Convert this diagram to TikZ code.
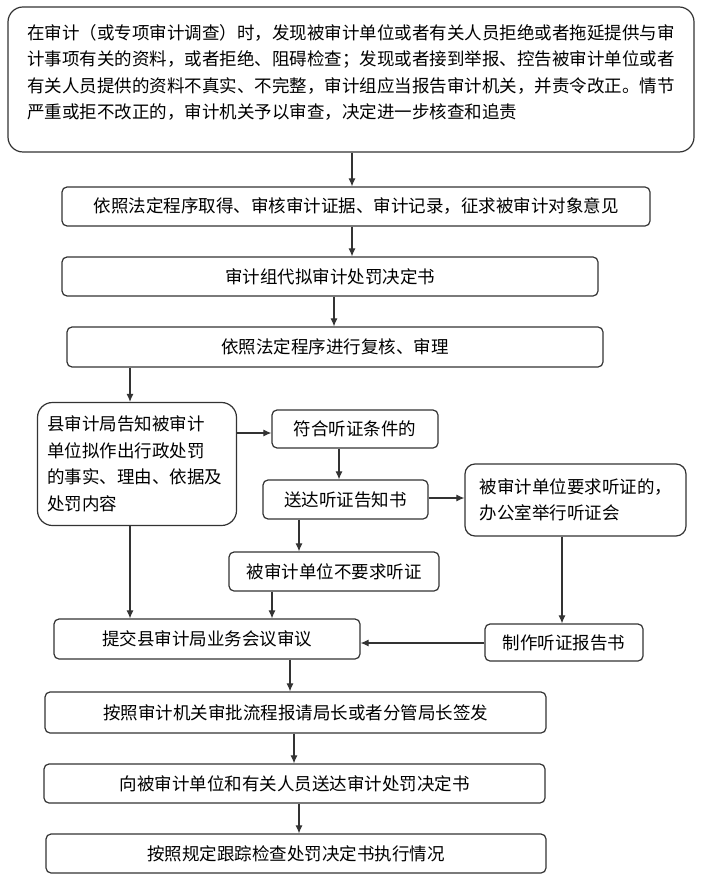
\documentclass[tikz,border=0pt]{standalone}
\usepackage{fontspec}
\newfontfamily\cjk{Noto Sans CJK SC}
\usetikzlibrary{arrows.meta}
\definecolor{ln}{HTML}{333333}
\begin{document}
\begin{tikzpicture}[x=1pt,y=-1pt,
  box/.style={draw=ln,line width=1.2pt,rounded corners=5pt,inner sep=0pt,
    font={\cjk\fontsize{17.5}{26.5}\selectfont},text=black},
  txt/.style={inner sep=0pt,align=left,font={\cjk\fontsize{17.5}{26.5}\selectfont},text=black},
  arr/.style={draw=ln,line width=1.1pt,-{Latex[length=8pt,width=7pt]}}]
\path[use as bounding box,fill=white] (0,0) rectangle (705,882);

\node[box,rounded corners=15pt,minimum width=686pt,minimum height=145pt] (top) at (351,79.5) {};
\node[txt,anchor=north west] (toptxt) at (27,24) {在审计（或专项审计调查）时，发现被审计单位或者有关人员拒绝或者拖延提供与审\\
计事项有关的资料，或者拒绝、阻碍检查；发现或者接到举报、控告被审计单位或者\\
有关人员提供的资料不真实、不完整，审计组应当报告审计机关，并责令改正。情节\\
严重或拒不改正的，审计机关予以审查，决定进一步核查和追责};

\node[box,minimum width=588pt,minimum height=39pt] (b2) at (356,206.5) {依照法定程序取得、审核审计证据、审计记录，征求被审计对象意见};
\node[box,minimum width=536pt,minimum height=39pt] (b3) at (330,276.5) {审计组代拟审计处罚决定书};
\node[box,minimum width=536pt,minimum height=40pt] (b4) at (335,347) {依照法定程序进行复核、审理};
\node[box,rounded corners=15pt,minimum width=199pt,minimum height=123pt,align=left,text width=180pt] (b5) at (137,464) {县审计局告知被审计\\单位拟作出行政处罚\\的事实、理由、依据及\\处罚内容};
\node[box,minimum width=166pt,minimum height=38pt] (b6) at (355,429) {符合听证条件的};
\node[box,minimum width=165pt,minimum height=39pt] (b7) at (345.5,499.5) {送达听证告知书};
\node[box,rounded corners=10pt,minimum width=221pt,minimum height=72pt,align=left,text width=192pt] (b8) at (575.5,500) {被审计单位要求听证的，\\办公室举行听证会};
\node[box,minimum width=210pt,minimum height=39pt] (b9) at (334,571.5) {被审计单位不要求听证};
\node[box,minimum width=306pt,minimum height=40pt] (b10) at (207,639) {提交县审计局业务会议审议};
\node[box,minimum width=158pt,minimum height=37pt] (b11) at (564,642.5) {制作听证报告书};
\node[box,minimum width=501pt,minimum height=41pt] (b12) at (295.5,712.5) {按照审计机关审批流程报请局长或者分管局长签发};
\node[box,minimum width=501pt,minimum height=39pt] (b13) at (294.5,783.5) {向被审计单位和有关人员送达审计处罚决定书};
\node[box,minimum width=500pt,minimum height=39pt] (b14) at (296,853.5) {按照规定跟踪检查处罚决定书执行情况};

\draw[arr] (top.south -| 352,0) -- (b2.north -| 352,0);
\draw[arr] (b2.south -| 352,0) -- (b3.north -| 352,0);
\draw[arr] (b3.south -| 334,0) -- (b4.north -| 334,0);
\draw[arr] (b4.south -| 130,0) -- (b5.north -| 130,0);
\draw[arr] (b5.east |- 0,433) -- (b6.west |- 0,433);
\draw[arr] (b6.south -| 339,0) -- (b7.north -| 339,0);
\draw[arr] (b7.east |- 0,498) -- (b8.west |- 0,498);
\draw[arr] (b7.south -| 299,0) -- (b9.north -| 299,0);
\draw[arr] (b5.south -| 130,0) -- (b10.north -| 130,0);
\draw[arr] (b9.south -| 272,0) -- (b10.north -| 272,0);
\draw[arr] (b8.south -| 562,0) -- (b11.north -| 562,0);
\draw[arr] (b11.west |- 0,643) -- (b10.east |- 0,643);
\draw[arr] (b10.south -| 290,0) -- (b12.north -| 290,0);
\draw[arr] (b12.south -| 294,0) -- (b13.north -| 294,0);
\draw[arr] (b13.south -| 299,0) -- (b14.north -| 299,0);
\end{tikzpicture}
\end{document}
